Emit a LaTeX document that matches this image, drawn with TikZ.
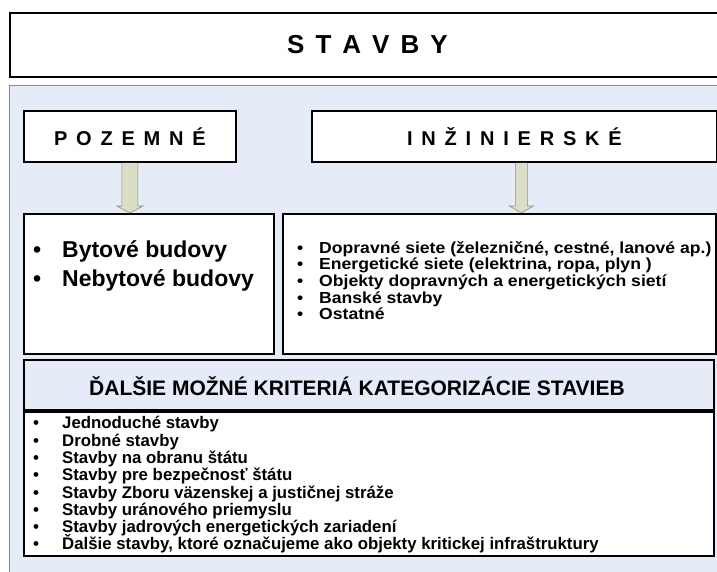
\documentclass[tikz,border=0pt]{standalone}
\usepackage{fontspec}
\setmainfont{Liberation Sans}
\newfontfamily\widefont[FakeStretch=1.1]{Liberation Sans}
\usetikzlibrary{positioning,calc}
\definecolor{PanelBg}{HTML}{E5ECF7}
\definecolor{PanelRule}{HTML}{8C8C8C}
\definecolor{ArrowBg}{HTML}{D9DEC4}
\definecolor{ArrowRule}{HTML}{8E9474}
\newcommand{\titlefont}{\fontsize{26}{30}\selectfont\bfseries\spaceskip 11pt\relax}
\newcommand{\kindfont}{\fontsize{20}{24}\selectfont\bfseries\spaceskip 8.8pt\relax}
\newcommand{\listfont}{\fontsize{16.8}{17.3}\selectfont\bfseries\lineskiplimit -20pt\relax}

\begin{document}
\begin{tikzpicture}[x=1pt, y=-1pt,
  frame/.style={draw=black, line width=1.8pt, fill=white, inner sep=0pt,
                anchor=north west},
  list/.style={anchor=north west, align=left, inner sep=0pt, font=\listfont},
  blockarr/.style={fill=ArrowBg, draw=ArrowRule, line width=0.6pt}]
  \useasboundingbox (0,0) rectangle (717,571);
  % heading
  \node[frame, minimum width=715pt, minimum height=64pt, font=\titlefont] (stavby)
       at (9,12) {S T A V B Y};
  % blue panel
  \fill[PanelBg] (9,85) rectangle (730,590);
  \draw[PanelRule, line width=0.8pt] (730,85) -- (9,85) -- (9,590);
  % two kinds
  \node[frame, minimum width=212pt, minimum height=51pt, font=\kindfont] (poz)
       at (23,110) {P O Z E M N É};
  \node[frame, minimum width=405pt, minimum height=51pt, font=\kindfont] (inz)
       at (311,110) {I N Ž I N I E R S K É};
  \node[frame, minimum width=250pt, minimum height=140pt] (byt) at (23,213) {};
  \node[frame, minimum width=433pt, minimum height=140pt] (ine) at (282,213) {};
  \node[list, font=\fontsize{23}{29}\selectfont\bfseries] (bytlist)
       at ($(byt.north west)+(10,27)$)
       {\makebox[29pt][l]{\textbullet}Bytové budovy\\
        \makebox[29pt][l]{\textbullet}Nebytové budovy};
  \node[list, font=\widefont\fontsize{16}{16.7}\selectfont\bfseries] (inelist)
       at ($(ine.north west)+(15,28)$)
       {\makebox[22pt][l]{\textbullet}Dopravné siete (železničné, cestné, lanové ap.)\\
        \makebox[22pt][l]{\textbullet}Energetické siete (elektrina, ropa, plyn )\\
        \makebox[22pt][l]{\textbullet}Objekty dopravných a energetických sietí\\
        \makebox[22pt][l]{\textbullet}Banské stavby\\
        \makebox[22pt][l]{\textbullet}Ostatné};
  % block arrows
  \draw[blockarr] ($(poz.south)+(-8,0)$) -- ($(poz.south |- byt.north)+(-8,-7)$)
    -- ($(poz.south |- byt.north)+(-13,-7)$) -- (poz.south |- byt.north)
    -- ($(poz.south |- byt.north)+(13,-7)$) -- ($(poz.south |- byt.north)+(8,-7)$)
    -- ($(poz.south)+(8,0)$);
  \coordinate (inzfoot) at ($(inz.south)+(7,0)$);
  \draw[blockarr] ($(inzfoot)+(-6,0)$) -- ($(inzfoot |- ine.north)+(-6,-7)$)
    -- ($(inzfoot |- ine.north)+(-12,-7)$) -- (inzfoot |- ine.north)
    -- ($(inzfoot |- ine.north)+(12,-7)$) -- ($(inzfoot |- ine.north)+(6,-7)$)
    -- ($(inzfoot)+(6,0)$);
  % further criteria
  \node[frame, fill=PanelBg, minimum width=690pt, minimum height=50pt] (dalsie)
       at (23,359) {};
  \node[anchor=west, inner sep=0pt, font=\fontsize{21}{24}\selectfont\bfseries]
       (dalsietext) at ($(dalsie.west)+(66,1)$)
       {ĎALŠIE MOŽNÉ KRITERIÁ KATEGORIZÁCIE STAVIEB};
  \node[frame, minimum width=690pt, minimum height=144pt] (krit)
       at (dalsie.south west) {};
  \node[list] (kritlist) at ($(krit.north west)+(10,5.5)$)
       {\makebox[29pt][l]{\textbullet}Jednoduché stavby\\
        \makebox[29pt][l]{\textbullet}Drobné stavby\\
        \makebox[29pt][l]{\textbullet}Stavby na obranu štátu\\
        \makebox[29pt][l]{\textbullet}Stavby pre bezpečnosť štátu\\
        \makebox[29pt][l]{\textbullet}Stavby Zboru väzenskej a justičnej stráže\\
        \makebox[29pt][l]{\textbullet}Stavby uránového priemyslu\\
        \makebox[29pt][l]{\textbullet}Stavby jadrových energetických zariadení\\
        \makebox[29pt][l]{\textbullet}Ďalšie stavby, ktoré označujeme ako objekty kritickej infraštruktury};
\end{tikzpicture}
\end{document}
